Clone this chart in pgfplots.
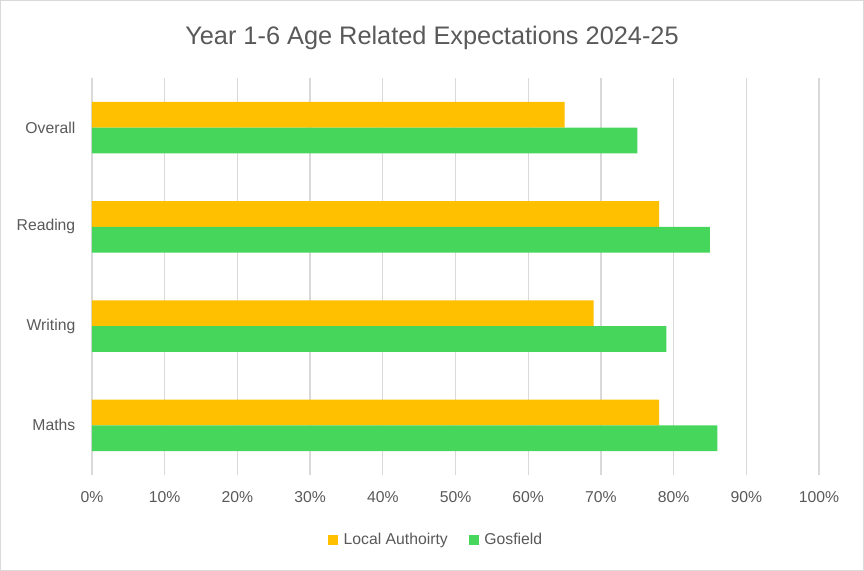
\documentclass[border=0pt]{standalone}
\usepackage{pgfplots}
\pgfplotsset{compat=1.18}
\usepackage{fontspec}
\setmainfont{Liberation Sans}
\definecolor{la}{HTML}{FFC000}
\definecolor{gos}{HTML}{47D65C}
\definecolor{gridc}{HTML}{D9D9D9}
\definecolor{txt}{HTML}{595959}
\begin{document}
\begin{tikzpicture}
  % whole chart frame, 864x571 px at 0.75pt per px
  \draw[gridc, line width=0.75pt] (0.4pt,0.4pt) rectangle (647.6pt,427.85pt);
  \node[txt, font=\fontsize{19}{22}\selectfont] at (324pt,399.5pt) {Year 1-6 Age Related Expectations 2024-25};
  \begin{axis}[
      at={(69pt,72pt)}, anchor=south west,
      scale only axis,
      width=545.25pt, height=297.75pt,
      xbar,
      bar width=0.26,
      xmin=0, xmax=100,
      ymin=-0.5, ymax=3.5,
      xtick={0,10,...,100},
      xticklabel={\pgfmathprintnumber{\tick}\%},
      ytick={0,1,2,3},
      yticklabels={Maths,Writing,Reading,Overall},
      xmajorgrids,
      major grid style={gridc, line width=1pt},
      axis line style={draw=none},
      major tick length=0pt,
      tick label style={txt, font=\fontsize{11.8}{13}\selectfont},
      /pgf/number format/assume math mode=true,
      xticklabel style={yshift=-9pt},
      yticklabel style={xshift=-9pt},
      legend style={at={(0.474,-0.164)}, anchor=center, draw=none,
        legend columns=2, font=\fontsize{11.8}{13}\selectfont, text=txt,
        /tikz/every odd column/.append style={column sep=2pt},
        /tikz/every even column/.append style={column sep=14pt}},
      legend image code/.code={\fill[#1] (0pt,-3.75pt) rectangle (7.5pt,3.75pt);},
    ]
    \addplot[draw=none, fill=la, bar shift=0.13] coordinates {(78,0) (69,1) (78,2) (65,3)};
    \addplot[draw=none, fill=gos, bar shift=-0.13] coordinates {(86,0) (79,1) (85,2) (75,3)};
    \legend{Local Authoirty, Gosfield}
  \end{axis}
\end{tikzpicture}
\end{document}
